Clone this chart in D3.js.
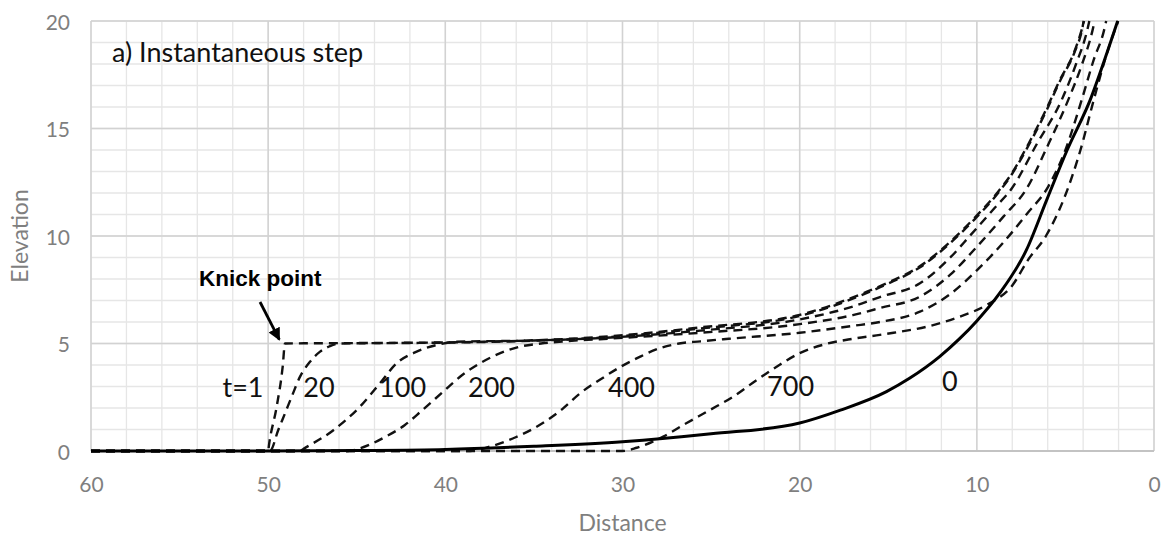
<!DOCTYPE html>
<html>
<head>
<meta charset="utf-8">
<script src="https://cdn.jsdelivr.net/npm/d3@7"></script>
<style>
  html, body { margin: 0; padding: 0; background: #fff; }
  svg { display: block; }
</style>
</head>
<body>
<svg id="chart" width="1168" height="537"></svg>
<script>
// ---------- data (distance, elevation) ----------
const seriesT0 = [[60,0],[50,0],[45,0.02],[40,0.07],[35,0.22],[30,0.43],[25,0.8],[20,1.3],[17.7,1.9],[15.1,2.76],[13.8,3.38],[12.1,4.39],[11,5.2],[10,6.05],[8.7,7.35],[7.2,9.35],[6.06,11.67],[4.9,14.0],[3.6,16.33],[2.6,18.65],[2.05,20]];
const seriesT1 = [[60,0],[50,0],[49.95,0.3],[49.52,2.06],[49.18,3.92],[49.05,5.0],[45,5.02],[40,5.05],[35,5.15],[31.3,5.3],[25.6,5.75],[20,6.33],[16.2,7.41],[15.1,7.8],[13.2,8.6],[11.6,9.66],[10.1,10.87],[8.8,12.06],[8.04,12.9],[7.09,14.28],[6.15,15.78],[5.31,17.26],[4.46,18.65],[4.08,19.6],[3.95,20]];
const seriesT20 = [[60,0],[49.9,0],[49.43,0.98],[49.05,1.75],[48.67,2.53],[48.2,3.46],[47.64,4.15],[47.07,4.62],[46.51,4.88],[45.95,5.0],[40,5.04],[35,5.13],[31.3,5.27],[25.6,5.7],[20,6.28],[16.2,7.35],[15.1,7.75],[13.2,8.55],[11.6,9.6],[10.1,10.8],[8.8,12.0],[8.04,12.85],[7.09,14.2],[6.15,15.7],[5.31,17.2],[4.46,18.6],[4.06,19.6],[3.97,20]];
const seriesT100 = [[60,0],[48.2,0],[48.0,0.1],[46.3,0.98],[44.82,2.06],[43.69,3.15],[42.75,4.08],[41.62,4.62],[40.49,4.93],[39.36,5.08],[35,5.14],[31.3,5.25],[25.6,5.6],[20,6.12],[17,6.72],[15.47,7.16],[13.21,7.8],[11.5,9.0],[10.4,10.0],[9.0,11.3],[8.04,12.2],[6.6,14.3],[5.21,16.33],[4.4,18.0],[3.76,19.6],[3.65,20]];
const seriesT200 = [[60,0],[45.5,0],[44.82,0.12],[44.25,0.3],[43.4,0.65],[42.3,1.2],[41.3,1.9],[40.2,2.7],[39.1,3.5],[38,4.1],[36.9,4.55],[35.8,4.85],[34.6,5.0],[33.3,5.1],[31.3,5.2],[25.6,5.5],[20,5.9],[17,6.32],[15.47,6.65],[13.21,7.18],[11.5,8.2],[10.0,9.5],[8.5,10.9],[7.19,12.2],[6,14.2],[4.84,16.33],[4.1,17.9],[3.46,19.6],[3.35,20]];
const seriesT400 = [[60,0],[38.6,0],[37.5,0.2],[36,0.65],[34.5,1.3],[33.4,1.95],[32.4,2.68],[31.3,3.3],[30.1,3.92],[29,4.39],[27.9,4.78],[26.8,5.0],[25.6,5.1],[24,5.22],[20,5.5],[17,5.82],[15.47,6.0],[13.21,6.48],[11.5,7.3],[10,8.4],[8.5,9.7],[7.2,11.0],[5.97,12.3],[5,14.0],[4.08,16.33],[3.4,18.2],[2.81,19.6],[2.7,20]];
const seriesT700 = [[60,0],[30,0],[29.2,0.15],[27.7,0.67],[26.4,1.29],[25.06,1.91],[23.75,2.53],[22.43,3.3],[21.3,3.92],[20,4.55],[18.5,4.98],[17,5.22],[15.47,5.4],[14.7,5.5],[12.83,5.78],[10.95,6.25],[9.45,6.79],[8,7.7],[7.1,8.9],[6.1,10.0],[5.1,11.7],[4.15,14.0],[3.4,16.33],[2.6,18.65],[2.02,20]];

const dashedSeries = [seriesT1, seriesT20, seriesT100, seriesT200, seriesT400, seriesT700];
const curveLabels = ["t=1", "20", "100", "200", "400", "700", "0"];
const labelAnchors = [[52.58,2.53],[48.02,2.53],[43.74,2.53],[38.72,2.53],[30.82,2.53],[21.84,2.58],[11.97,2.77]];

const xTicks = [60, 50, 40, 30, 20, 10, 0];
const yTicks = [0, 5, 10, 15, 20];
const xMinor = d3.range(0, 61, 2);
const yMinor = d3.range(0, 21, 1);

const titleText = "a) Instantaneous step";
const xTitle = "Distance";
const yTitle = "Elevation";
const knickText = "Knick point";
const knickTextAnchor = [53.9, 7.67];
const knickArrow = [[50.46, 6.93], [49.37, 5.18]];

// ---------- layout ----------
const svg = d3.select("#chart");
const plotL = 91, plotR = 1154, plotT = 21, plotB = 451;
const x = d3.scaleLinear().domain([60, 0]).range([plotL, plotR]);
const y = d3.scaleLinear().domain([0, 20]).range([plotB, plotT]);
const FONT = "Lato, 'Open Sans', sans-serif";

svg.append("rect").attr("width", 1168).attr("height", 537).attr("fill", "#fff");

const grid = svg.append("g");
grid.selectAll(".vminor").data(xMinor).join("line")
  .attr("x1", d => x(d)).attr("x2", d => x(d)).attr("y1", plotT).attr("y2", plotB)
  .attr("stroke", "#e6e6e6").attr("stroke-width", 1.3);
grid.selectAll(".hminor").data(yMinor).join("line")
  .attr("x1", plotL).attr("x2", plotR).attr("y1", d => y(d)).attr("y2", d => y(d))
  .attr("stroke", "#e6e6e6").attr("stroke-width", 1.3);
grid.selectAll(".vmajor").data(xTicks).join("line")
  .attr("x1", d => x(d)).attr("x2", d => x(d)).attr("y1", plotT).attr("y2", plotB)
  .attr("stroke", "#d2d2d2").attr("stroke-width", 1.5);
grid.selectAll(".hmajor").data(yTicks).join("line")
  .attr("x1", plotL).attr("x2", plotR).attr("y1", d => y(d)).attr("y2", d => y(d))
  .attr("stroke", "#d2d2d2").attr("stroke-width", 1.5);
svg.append("line").attr("x1", plotL).attr("x2", plotR).attr("y1", plotB).attr("y2", plotB)
  .attr("stroke", "#bdbdbd").attr("stroke-width", 1.5);

const xAxis = d3.axisBottom(x).tickValues(xTicks).tickSize(0).tickPadding(0).tickFormat(d3.format("d"));
const gx = svg.append("g").attr("transform", `translate(0,${plotB + 34})`).call(xAxis);
gx.select(".domain").remove();
gx.selectAll("text").attr("font-family", FONT).attr("font-size", 21)
  .attr("fill", "#7f7f7f").attr("dy", "0.32em").attr("y", 0);

const yAxis = d3.axisLeft(y).tickValues(yTicks).tickSize(0).tickPadding(0).tickFormat(d3.format("d"));
const gy = svg.append("g").attr("transform", `translate(${plotL - 21},1.5)`).call(yAxis);
gy.select(".domain").remove();
gy.selectAll("text").attr("font-family", FONT).attr("font-size", 21).attr("fill", "#7f7f7f");

svg.append("text").attr("x", (plotL + plotR) / 2).attr("y", 531).attr("text-anchor", "middle")
  .attr("font-family", FONT).attr("font-size", 23).attr("fill", "#7f7f7f").text(xTitle);
svg.append("text").attr("transform", `translate(28,${(plotT + plotB) / 2}) rotate(-90)`)
  .attr("text-anchor", "middle")
  .attr("font-family", FONT).attr("font-size", 23).attr("fill", "#7f7f7f").text(yTitle);

const line = d3.line().x(d => x(d[0])).y(d => y(d[1])).curve(d3.curveMonotoneX);
const plot = svg.append("g");
plot.selectAll(".dash").data(dashedSeries).join("path")
  .attr("d", line).attr("fill", "none").attr("stroke", "#111")
  .attr("stroke-width", 2.4).attr("stroke-dasharray", "9,6");
plot.append("path").datum(seriesT0).attr("d", line).attr("fill", "none")
  .attr("stroke", "#000").attr("stroke-width", 3);

svg.selectAll(".clabel").data(curveLabels).join("text")
  .attr("x", (d, i) => x(labelAnchors[i][0])).attr("y", (d, i) => y(labelAnchors[i][1]))
  .attr("font-family", FONT).attr("font-size", 27).attr("fill", "#111").text(d => d);

svg.append("text").attr("x", 112).attr("y", 61.5)
  .attr("font-family", FONT).attr("font-size", 27).attr("fill", "#111").text(titleText);

svg.append("text").attr("x", x(knickTextAnchor[0])).attr("y", y(knickTextAnchor[1]))
  .attr("font-family", "'Liberation Sans', Arial, sans-serif").attr("font-weight", "bold")
  .attr("font-size", 22.5).attr("fill", "#000").text(knickText);

const defs = svg.append("defs");
defs.append("marker").attr("id", "arrow").attr("viewBox", "0 0 10 10")
  .attr("refX", 9).attr("refY", 5).attr("markerWidth", 4.5).attr("markerHeight", 4.5)
  .attr("orient", "auto").attr("markerUnits", "strokeWidth")
  .append("path").attr("d", "M0,0 L10,5 L0,10 z").attr("fill", "#000");
svg.append("line")
  .attr("x1", x(knickArrow[0][0])).attr("y1", y(knickArrow[0][1]))
  .attr("x2", x(knickArrow[1][0])).attr("y2", y(knickArrow[1][1]))
  .attr("stroke", "#000").attr("stroke-width", 2.8).attr("marker-end", "url(#arrow)");
</script>
</body>
</html>
